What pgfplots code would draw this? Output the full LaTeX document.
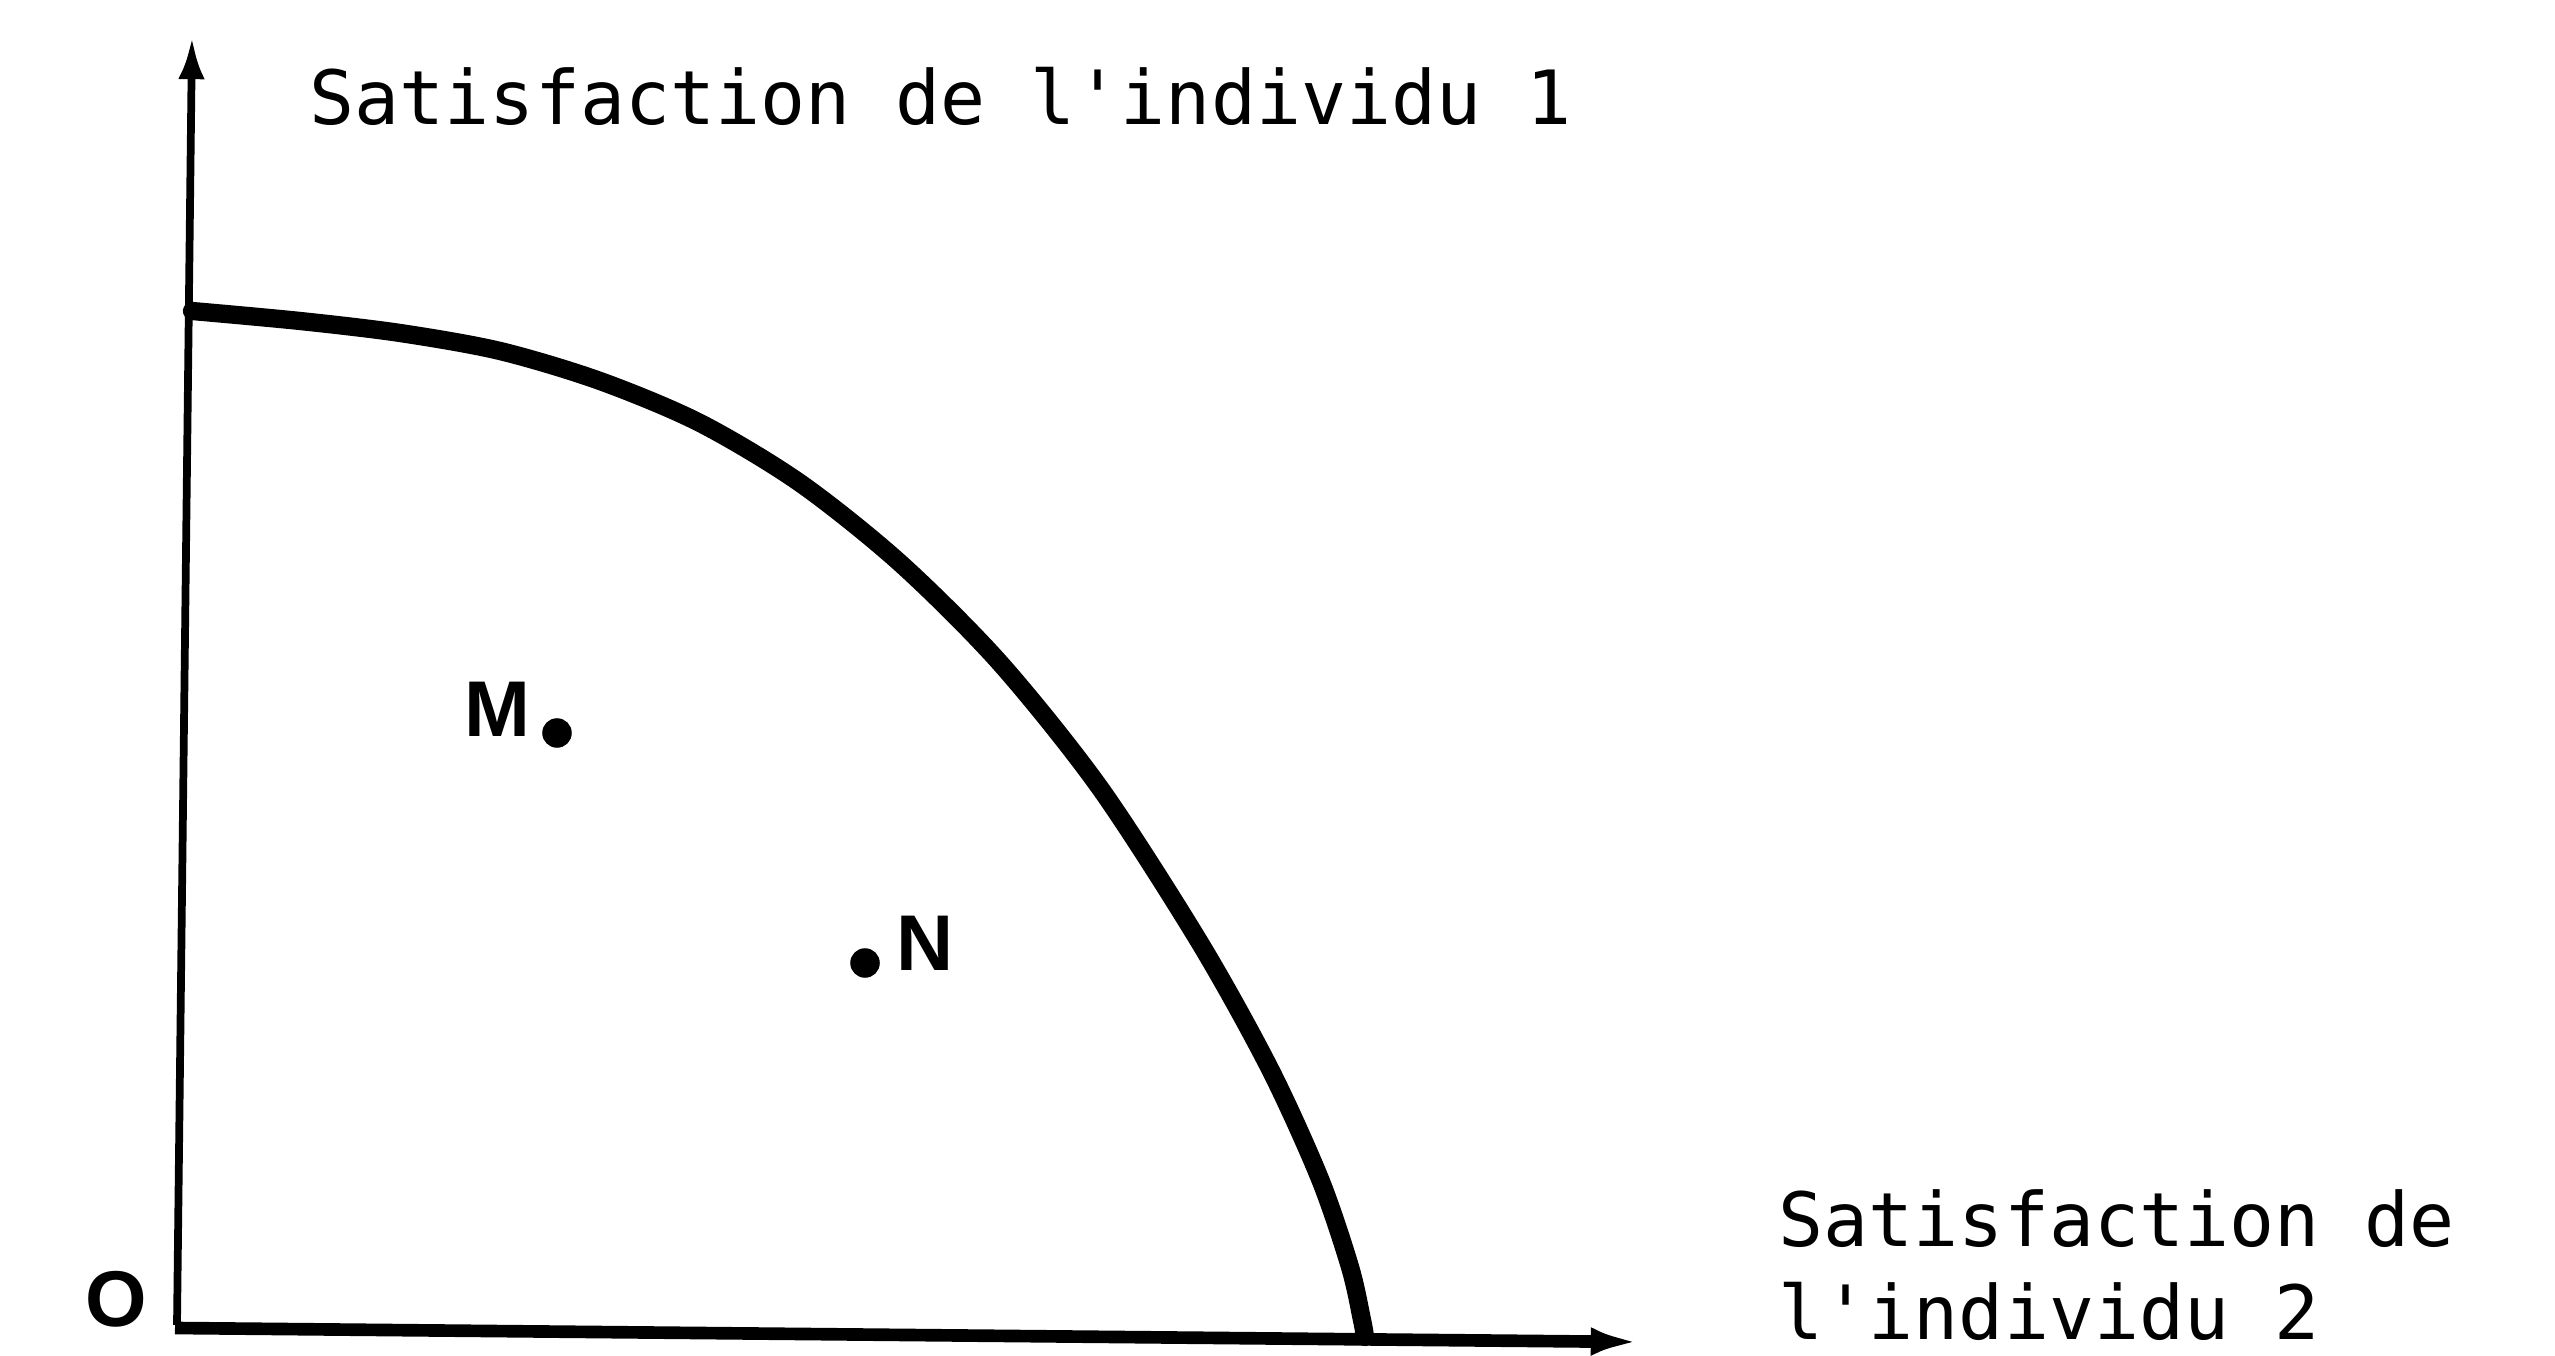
\documentclass[border=0pt]{standalone}
\usepackage{fontspec}
\usepackage{pgfplots}
\pgfplotsset{compat=1.18}
\usetikzlibrary{arrows.meta}
\newfontfamily\typo{DejaVu Sans Mono}
\newfontfamily\lettre{Liberation Sans}

\begin{document}
\begin{tikzpicture}
\begin{axis}[
    scale only axis,
    width=25.55cm, height=13.52cm,
    xmin=0, xmax=2555, ymin=0, ymax=1352,
    hide axis,
    clip=false,
    ]
% frame of the picture
\addplot[draw=none] coordinates {(0,0) (2555,1352)};
% axes
\addplot[line width=2.2pt, -{Latex[length=12pt,width=7.5pt]}]
    coordinates {(177,27) (192,1315)};
\addplot[line width=3.6pt, -{Latex[length=14pt,width=8pt]}]
    coordinates {(175,24) (1640,10)};
% frontier
\addplot[line width=5.2pt, smooth, line cap=round] coordinates {
    (192,1041) (300,1031) (400,1019) (500,1001) (600,971) (700,929)
    (800,869) (900,789) (1000,689) (1100,564) (1200,409) (1270,283)
    (1320,173) (1350,85) (1362,32) (1365,15)
};
% points M and N
\addplot[only marks, mark=*, mark size=4pt] coordinates {(557,619) (865,389)};

\node[anchor=base west, inner sep=0pt] at (axis cs:309,1227)
    {\typo\fontsize{21.3}{26}\selectfont Satisfaction de l'individu 1};
\node[anchor=base west, inner sep=0pt] at (axis cs:1778,105)
    {\typo\fontsize{21.3}{26}\selectfont Satisfaction de};
\node[anchor=base west, inner sep=0pt] at (axis cs:1778,12)
    {\typo\fontsize{21.3}{26}\selectfont l'individu 2};
\node[anchor=base west, inner sep=0pt] at (axis cs:464,615)
    {\lettre\bfseries\fontsize{22.5}{26}\selectfont M};
\node[anchor=base west, inner sep=0pt] at (axis cs:896,381)
    {\lettre\bfseries\fontsize{22.5}{26}\selectfont N};
\node[anchor=base west, inner sep=0pt] at (axis cs:85,25)
    {\lettre\bfseries\fontsize{22.5}{26}\selectfont O};
\end{axis}
\end{tikzpicture}
\end{document}
